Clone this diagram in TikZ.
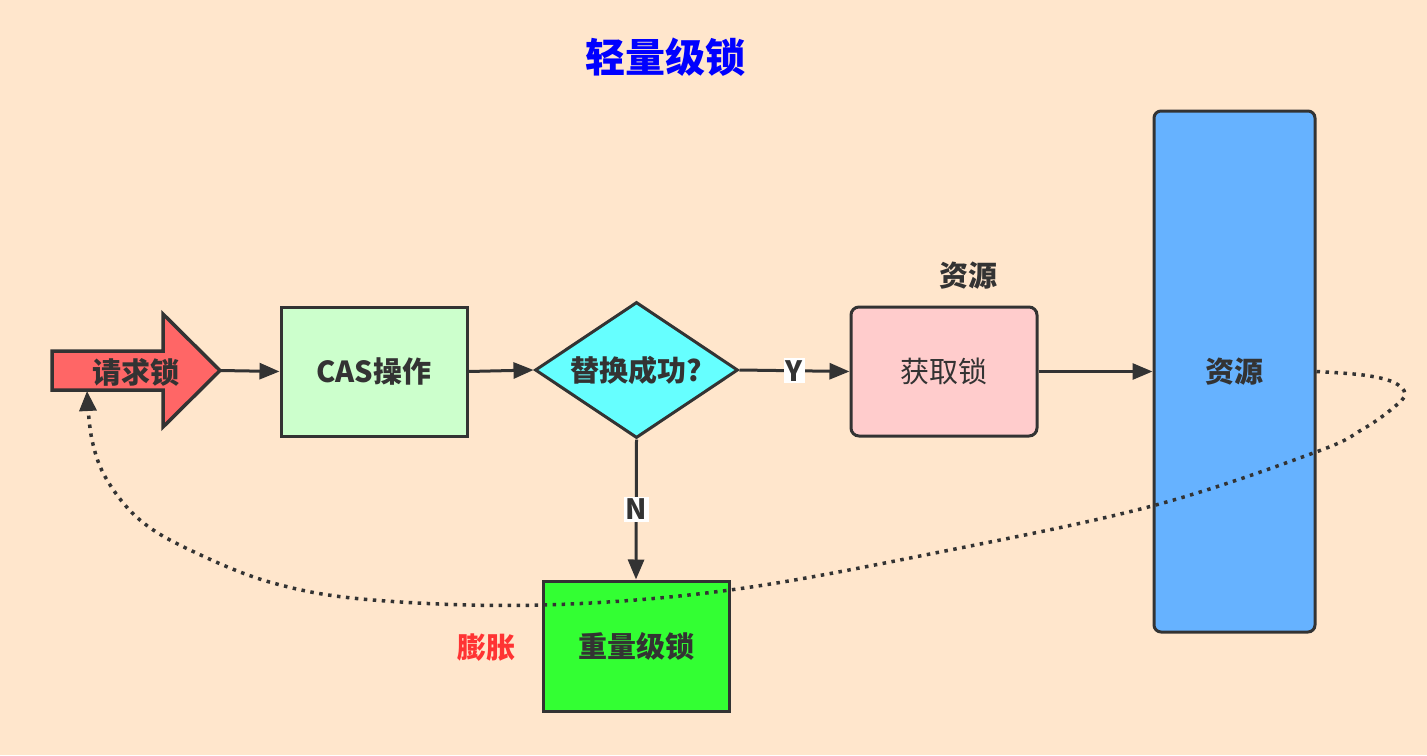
\documentclass[tikz,border=0pt]{standalone}
\usepackage{fontspec}
\setmainfont{Noto Sans CJK SC}
\usetikzlibrary{arrows.meta,shapes.geometric,calc}
\definecolor{bg}{HTML}{FFE6CC}
\definecolor{ink}{HTML}{333333}
\definecolor{reqred}{HTML}{FF6666}
\definecolor{casgreen}{HTML}{CCFFCC}
\definecolor{cyanfill}{HTML}{66FFFF}
\definecolor{pinkfill}{HTML}{FFCCCC}
\definecolor{bluefill}{HTML}{66B2FF}
\definecolor{heavygreen}{HTML}{33FF33}
\definecolor{titleblue}{HTML}{0000FF}
\definecolor{swellred}{HTML}{FF3333}
\begin{document}
\begin{tikzpicture}[x=1pt,y=-1pt,
  txt/.style={text=ink, font=\fontsize{29}{33}\selectfont\bfseries},
  box/.style={txt, draw=ink, line width=3pt, inner sep=0pt},
  flow/.style={draw=ink, line width=3pt, -{Triangle[length=20pt,width=16pt]}},
  tag/.style={fill=white, text=ink, inner sep=2pt, font=\fontsize{28}{30}\selectfont\bfseries},
  loopline/.style={draw=ink, line width=3.5pt, dash pattern=on 3.5pt off 5.5pt,
    -{Triangle[length=20pt,width=17pt]}}
]
% canvas
\useasboundingbox (0,0) rectangle (1427,755);
\fill[bg] (0,0) rectangle (1427,755);

% title
\node[font=\fontsize{40}{44}\selectfont\bfseries, text=titleblue] (title) at (665,57) {轻量级锁};

% request arrow shape
\draw[fill=reqred, draw=ink, line width=3.5pt, line join=miter]
  (52,351) -- (163,351) -- (163,314) -- (220,370.5) -- (163,427) -- (163,390) -- (52,390) -- cycle;
\node[txt] (req) at (136,372) {请求锁};
\coordinate (reqtip) at (220,370.5);
\coordinate (reqfoot) at (87,391);

% flow boxes
\node[box, fill=casgreen, minimum width=186pt, minimum height=129pt] (cas) at (374,371.5) {CAS操作};
\node[box, fill=cyanfill, shape=diamond, aspect=1.49, minimum width=203pt, minimum height=136pt] (dia) at (636.5,370) {替换成功?};
\node[box, fill=pinkfill, rounded corners=8pt, minimum width=186pt, minimum height=129pt,
      font=\fontsize{29}{33}\selectfont] (lock) at (944,371.5) {获取锁};
\node[box, fill=bluefill, rounded corners=7pt, minimum width=161pt, minimum height=521pt] (res) at (1234.5,371.5) {资源};
\node[box, fill=heavygreen, minimum width=186pt, minimum height=130pt] (heavy) at (636,646) {重量级锁};

% free labels
\node[txt] (reslabel) at (968,276) {资源};
\node[txt, text=swellred] (swell) at (486,648) {膨胀};

% connectors
\draw[flow] (reqtip) -- (cas.west);
\draw[flow] (cas.east) -- (dia.west);
\draw[flow] (dia.east) -- node[tag] {Y} (lock.west);
\draw[flow] (lock.east) -- (res.west);
\draw[flow] (dia.south) -- node[tag] {N} (heavy.north);

% return loop from the resource back to the request
\draw[loopline] plot[smooth, tension=0.6] coordinates {
  (res.east) (1363,375) (1393,382) (1405,394) (1393,408) (1363,429) (1316,452)
  (1152,506) (940,552) (730,590) (542,605) (373,600) (273,583) (190,550)
  (140,520) (107,480) (92,440) (reqfoot)};
\end{tikzpicture}
\end{document}
